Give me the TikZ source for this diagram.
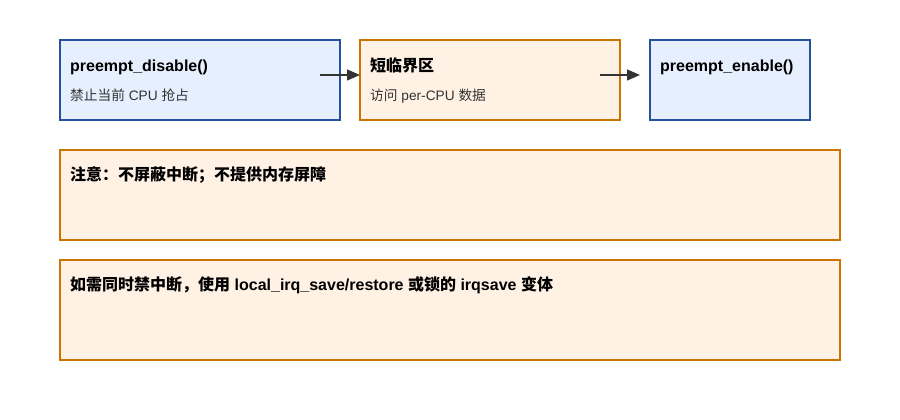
\documentclass[tikz,border=0pt]{standalone}
\usepackage{fontspec}
\setmainfont{Liberation Sans}
\newfontfamily\cjk{Noto Sans CJK SC}
\usetikzlibrary{arrows.meta}
\definecolor{bluefill}{HTML}{E5EFFD}
\definecolor{blueline}{HTML}{24529E}
\definecolor{orfill}{HTML}{FFF2E5}
\definecolor{orline}{HTML}{CC7400}
\definecolor{txt}{HTML}{333333}
\begin{document}
\begin{tikzpicture}[x=1pt,y=-1pt,
  box/.style={line width=1.6pt, inner sep=0pt, outer sep=0pt, anchor=north west},
  bluebox/.style={box, draw=blueline, fill=bluefill},
  orbox/.style={box, draw=orline, fill=orfill},
  title/.style={anchor=base west, inner sep=0pt, font=\bfseries\fontsize{16}{19}\selectfont, text=black},
  sub/.style={anchor=base west, inner sep=0pt, font=\fontsize{13.7}{16}\selectfont, text=txt},
  arr/.style={draw=txt, line width=1.3pt, -{Triangle[length=13pt,width=11pt]}}]
\useasboundingbox (0,0) rectangle (900,420);
\fill[white] (0,0) rectangle (900,420);
\node[bluebox, minimum width=280pt, minimum height=80pt] (A) at (60,40) {};
\node[orbox, minimum width=260pt, minimum height=80pt] (B) at (360,40) {};
\node[bluebox, minimum width=160pt, minimum height=80pt] (C) at (650,40) {};
\node[orbox, minimum width=780pt, minimum height=90pt] (D) at (60,150) {};
\node[orbox, minimum width=780pt, minimum height=100pt] (E) at (60,260) {};
\node[title] (At) at (70,71) {preempt\_disable()};
\node[sub] (As) at (70,100) {{\cjk 禁止当前} CPU {\cjk 抢占}};
\node[title] (Bt) at (370,71) {{\cjk 短临界区}};
\node[sub] (Bs) at (370,100) {{\cjk 访问} per-CPU {\cjk 数据}};
\node[title] (Ct) at (660,71) {preempt\_enable()};
\node[title] (Dt) at (70,180) {{\cjk 注意：不屏蔽中断；不提供内存屏障}};
\node[title] (Et) at (70,290) {{\cjk 如需同时禁中断，使用} local\_irq\_save/restore {\cjk 或锁的} irqsave {\cjk 变体}};
\coordinate (a1s) at (320,75);
\coordinate (a2s) at (600,75);
\coordinate (a2e) at (640,75);
\draw[arr] (a1s) -- (B.west |- a1s);
\draw[arr] (a2s) -- (a2e);
\end{tikzpicture}
\end{document}
